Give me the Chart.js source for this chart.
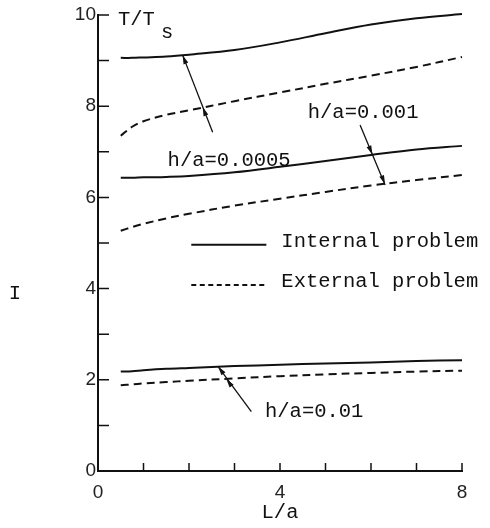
<!DOCTYPE html>
<html>
<head>
<meta charset="utf-8">
<script src="https://cdn.jsdelivr.net/npm/chart.js@4.4.0/dist/chart.umd.min.js"></script>
<style>
  html, body { margin: 0; padding: 0; background: #fff; }
  #wrap { width: 490px; height: 528px; }
</style>
</head>
<body>
<div id="wrap"><canvas id="chart" width="490" height="528"></canvas></div>
<script>
// L/a positions where the curves were read
const lValues = [0.5, 0.75, 1, 1.5, 2, 3, 4, 5, 6, 7, 8];

// T/Ts, internal problem (solid)
const internal0005 = [9.06, 9.06, 9.07, 9.09, 9.13, 9.23, 9.40, 9.60, 9.79, 9.93, 10.02];
const internal001 = [6.43, 6.43, 6.44, 6.45, 6.47, 6.55, 6.67, 6.80, 6.93, 7.05, 7.13];
const internal01 = [2.18, 2.19, 2.21, 2.24, 2.26, 2.30, 2.33, 2.36, 2.38, 2.41, 2.43];

// T/Ts, external problem (dashed)
const external0005 = [7.35, 7.55, 7.67, 7.81, 7.91, 8.11, 8.30, 8.49, 8.67, 8.86, 9.08];
const external001 = [5.27, 5.35, 5.42, 5.54, 5.64, 5.82, 5.97, 6.12, 6.26, 6.38, 6.49];
const external01 = [1.88, 1.90, 1.92, 1.95, 1.98, 2.03, 2.08, 2.12, 2.15, 2.18, 2.20];

// labelled ticks
const yTickLabels = [0, 2, 4, 6, 8, 10];
const xTickLabels = [0, 4, 8];

const MONO = '"Liberation Mono", "DejaVu Sans Mono", monospace';
const SANS = '"Liberation Sans", Arial, sans-serif';
const INK = '#111';

function toPoints(values) {
    return values.map((v, i) => ({ x: lValues[i], y: v }));
}

function curve(values, dashed) {
    return {
        data: toPoints(values),
        borderColor: INK,
        borderWidth: 2,
        borderDash: dashed ? [8, 5] : [],
        pointRadius: 0,
        tension: 0.35,
        clip: false,
    };
}

// leader lines from the h/a labels to the curves (data units)
const arrows = [
    { from: [2.52, 7.43], to: [1.86, 9.12], heads: [[1.86, 9.12], [2.30, 7.98]] },
    { from: [5.76, 7.59], to: [6.31, 6.27], heads: [[6.03, 6.94], [6.31, 6.29]] },
    { from: [3.37, 1.30], to: [2.64, 2.29], heads: [[2.64, 2.29], [2.82, 2.02]] },
];

const curveLabels = [
    { text: 'h/a=0.0005', at: [1.53, 6.80] },
    { text: 'h/a=0.001', at: [4.61, 7.85] },
    { text: 'h/a=0.01', at: [3.67, 1.30] },
];

// inner tick marks on both axes
const innerTicks = {
    id: 'innerTicks',
    afterDraw(chart) {
        const { ctx, chartArea, scales: { x, y } } = chart;
        ctx.save();
        ctx.strokeStyle = INK;
        ctx.lineWidth = 1.5;
        ctx.beginPath();
        for (let v = 0; v <= 10; v++) {
            const py = y.getPixelForValue(v);
            ctx.moveTo(chartArea.left, py);
            ctx.lineTo(chartArea.left + 11, py);
        }
        for (let l = 1; l <= 8; l++) {
            const px = x.getPixelForValue(l);
            ctx.moveTo(px, chartArea.bottom);
            ctx.lineTo(px, chartArea.bottom - 8);
        }
        ctx.stroke();
        ctx.restore();
    }
};

function arrowHead(ctx, tipX, tipY, dx, dy) {
    const len = Math.hypot(dx, dy);
    const ux = dx / len, uy = dy / len;
    const size = 9, half = 2.5;
    ctx.beginPath();
    ctx.moveTo(tipX, tipY);
    ctx.lineTo(tipX - ux * size - uy * half, tipY - uy * size + ux * half);
    ctx.lineTo(tipX - ux * size + uy * half, tipY - uy * size - ux * half);
    ctx.closePath();
    ctx.fill();
}

const annotations = {
    id: 'annotations',
    afterDraw(chart) {
        const { ctx, chartArea, scales: { x, y } } = chart;
        const px = l => x.getPixelForValue(l);
        const py = v => y.getPixelForValue(v);
        ctx.save();
        ctx.strokeStyle = INK;
        ctx.fillStyle = INK;

        // leader arrows
        ctx.lineWidth = 1.3;
        arrows.forEach(a => {
            const x0 = px(a.from[0]), y0 = py(a.from[1]);
            const x1 = px(a.to[0]), y1 = py(a.to[1]);
            ctx.beginPath();
            ctx.moveTo(x0, y0);
            ctx.lineTo(x1, y1);
            ctx.stroke();
            a.heads.forEach(h => arrowHead(ctx, px(h[0]), py(h[1]), x1 - x0, y1 - y0));
        });

        ctx.font = '20.5px ' + MONO;
        ctx.textBaseline = 'middle';
        ctx.textAlign = 'left';
        curveLabels.forEach(c => ctx.fillText(c.text, px(c.at[0]), py(c.at[1])));

        // legend
        ctx.lineWidth = 2;
        ctx.beginPath();
        ctx.moveTo(px(2.05), py(4.96));
        ctx.lineTo(px(3.70), py(4.96));
        ctx.stroke();
        ctx.setLineDash([5, 3.5]);
        ctx.beginPath();
        ctx.moveTo(px(2.05), py(4.08));
        ctx.lineTo(px(3.70), py(4.08));
        ctx.stroke();
        ctx.setLineDash([]);
        ctx.fillText('Internal problem', px(4.03), py(5.03));
        ctx.fillText('External problem', px(4.03), py(4.15));

        // axis names
        ctx.fillText('T/T', chartArea.left + 20, chartArea.top + 5);
        ctx.fillText('s', chartArea.left + 63, chartArea.top + 18);
        ctx.textAlign = 'center';
        ctx.fillText('I', 15, 294);
        ctx.restore();
    }
};

new Chart(document.getElementById('chart'), {
    type: 'line',
    data: {
        datasets: [
            curve(internal0005, false),
            curve(external0005, true),
            curve(internal001, false),
            curve(external001, true),
            curve(internal01, false),
            curve(external01, true),
        ]
    },
    options: {
        responsive: false,
        animation: false,
        devicePixelRatio: 1,
        layout: { padding: { top: 15, right: 28, left: 0, bottom: 0 } },
        plugins: {
            legend: { display: false },
            tooltip: { enabled: false },
        },
        scales: {
            x: {
                type: 'linear',
                min: 0,
                max: 8,
                afterFit(scale) { scale.height = 57; },
                grid: { display: false, drawTicks: false },
                border: { display: true, color: INK, width: 2 },
                ticks: {
                    stepSize: 1,
                    autoSkip: false,
                    maxRotation: 0,
                    padding: 10,
                    color: '#222',
                    font: { family: SANS, size: 19 },
                    callback: v => xTickLabels.includes(v) ? String(v) : '',
                },
                title: {
                    display: true,
                    text: 'L/a',
                    color: INK,
                    font: { family: MONO, size: 20.5 },
                    padding: { top: 0, bottom: 3 },
                },
            },
            y: {
                type: 'linear',
                min: 0,
                max: 10,
                afterFit(scale) { scale.width = 98; },
                grid: { display: false, drawTicks: false },
                border: { display: true, color: INK, width: 2 },
                ticks: {
                    stepSize: 1,
                    autoSkip: false,
                    padding: 2,
                    color: '#222',
                    font: { family: SANS, size: 19 },
                    callback: v => yTickLabels.includes(v) ? String(v) : '',
                },
            },
        },
    },
    plugins: [innerTicks, annotations],
});
</script>
</body>
</html>
